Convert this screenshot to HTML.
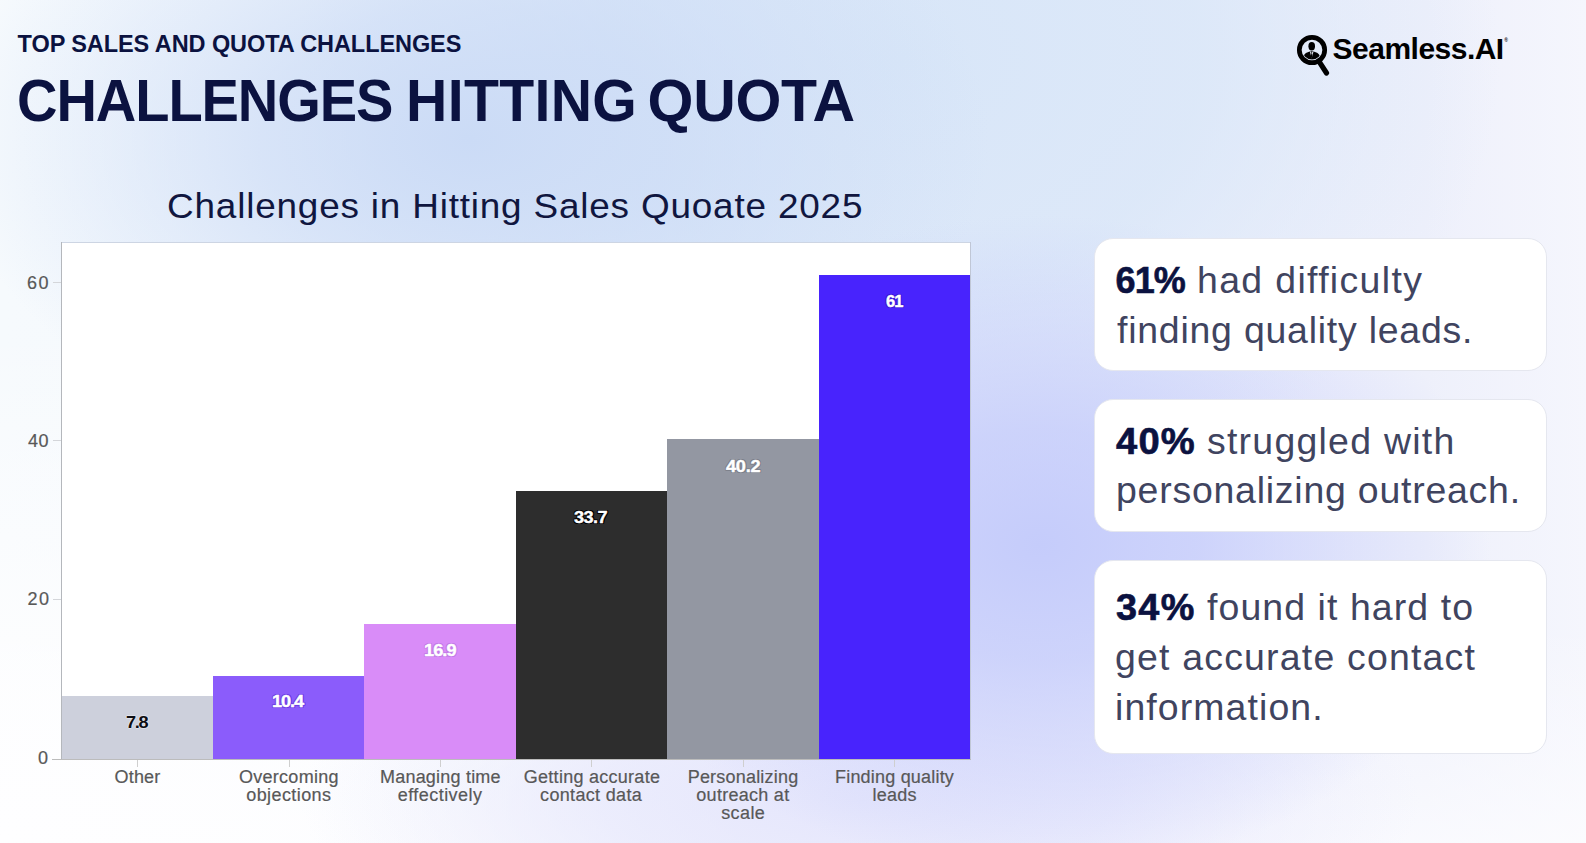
<!DOCTYPE html>
<html lang="en">
<head>
<meta charset="utf-8">
<title>Challenges Hitting Quota</title>
<style>
*{margin:0;padding:0;box-sizing:border-box}
html,body{width:1586px;height:843px;overflow:hidden}
body{font-family:"Liberation Sans",sans-serif;position:relative;background:#f1f3fd}
#bg{position:absolute;left:0;top:0;width:1586px;height:843px;
background:
 radial-gradient(ellipse 450px 330px at 1040px 545px, rgba(197,204,251,1) 0%, rgba(197,204,251,.8) 35%, rgba(197,204,251,0) 100%),
 radial-gradient(ellipse 560px 190px at 860px 800px, rgba(229,230,252,1) 0%, rgba(229,230,252,.7) 45%, rgba(229,230,252,0) 100%),
 radial-gradient(ellipse 520px 330px at 470px 140px, rgba(203,219,246,1) 0%, rgba(203,219,246,.7) 40%, rgba(203,219,246,0) 100%),
 radial-gradient(ellipse 600px 460px at 900px 60px, rgba(216,230,248,1) 0%, rgba(216,230,248,.8) 50%, rgba(216,230,248,0) 100%),
 radial-gradient(ellipse 800px 520px at 0px 843px, rgba(254,254,255,1) 0%, rgba(254,254,255,.85) 30%, rgba(254,254,255,0) 100%),
 linear-gradient(0deg, rgba(253,253,255,.75) 0, rgba(253,253,255,0) 220px),
 linear-gradient(90deg,#f6fafd 0%, #f4f8fd 30%, #f0f1fc 60%, #eef0fb 90%, #f5f6fd 100%);
}
.t{position:absolute;display:block;white-space:pre;line-height:1;transform-origin:0 0}
h1,p{font-size:inherit;font-weight:inherit}
#plot{position:absolute;left:62px;top:242px;width:909px;height:517px;background:#fff}
.bar{position:absolute}
.ln{position:absolute;background:#bdbfc4}
.card{position:absolute;left:1094.3px;width:453px;background:#fff;border:1.8px solid #e5e7ef;border-radius:19px}
</style>
</head>
<body>
<div id="bg"></div>
<span class="t" style="left:17.6px;top:32.6px;font-size:23.5px;font-weight:700;letter-spacing:-0.08px;color:#0b1240;">TOP SALES AND QUOTA CHALLENGES</span>
<h1><span class="t" style="left:17.4px;top:72.0px;font-size:59px;font-weight:700;letter-spacing:-1.13px;transform:scaleX(0.95);color:#0b1240;">CHALLENGES</span>
<span class="t" style="left:406.0px;top:72.0px;font-size:59px;font-weight:700;letter-spacing:0.34px;transform:scaleX(0.97);color:#0b1240;">HITTING</span>
<span class="t" style="left:647.5px;top:72.0px;font-size:59px;font-weight:700;letter-spacing:-0.26px;color:#0b1240;">QUOTA</span></h1>
<span class="t" style="left:166.9px;top:188.6px;font-size:35.5px;letter-spacing:0.77px;transform:scaleX(1.04);color:#10163f;">Challenges in Hitting Sales Quoate 2025</span>

<div id="plot"></div>
<div class="ln" style="left:61px;top:242px;width:1px;height:518px;background:#b4b7bc"></div>
<div class="ln" style="left:62px;top:242px;width:909px;height:1px;background:#cdd5e3"></div>
<div class="ln" style="left:970px;top:242px;width:1px;height:518px;background:#c0c7d6"></div>
<div class="bar" style="left:62px;top:696px;width:151px;height:63px;background:#cdd0dc"></div>
<div class="bar" style="left:213px;top:676px;width:151px;height:83px;background:#8b5cfb"></div>
<div class="bar" style="left:364px;top:624px;width:152px;height:135px;background:#d98cf8"></div>
<div class="bar" style="left:516px;top:491px;width:151px;height:268px;background:#2d2d2d"></div>
<div class="bar" style="left:667px;top:439px;width:152px;height:320px;background:#9397a2"></div>
<div class="bar" style="left:819px;top:274.500px;width:151px;height:484.500px;background:#4823fd"></div>
<div class="ln" style="left:52px;top:759px;width:919px;height:1px;background:#bcbcbc"></div>

<div class="ln" style="left:53px;top:282px;width:8px;height:1px;background:#d4d6da"></div>
<div class="ln" style="left:53px;top:440px;width:8px;height:1px;background:#d4d6da"></div>
<div class="ln" style="left:53px;top:599px;width:8px;height:1px;background:#d4d6da"></div>
<div class="ln" style="left:137px;top:760px;width:1px;height:7px;background:#cfcfcf"></div>
<div class="ln" style="left:289px;top:760px;width:1px;height:7px;background:#cfcfcf"></div>
<div class="ln" style="left:440px;top:760px;width:1px;height:7px;background:#cfcfcf"></div>
<div class="ln" style="left:591px;top:760px;width:1px;height:7px;background:#cfcfcf"></div>
<div class="ln" style="left:743px;top:760px;width:1px;height:7px;background:#cfcfcf"></div>
<div class="ln" style="left:894px;top:760px;width:1px;height:7px;background:#cfcfcf"></div>

<span class="t" style="left:27.0px;top:274.0px;font-size:18px;letter-spacing:1.6px;color:#585858;-webkit-text-stroke:0.2px #585858;">60</span>
<span class="t" style="left:28.0px;top:432.0px;font-size:18px;letter-spacing:0.6px;color:#585858;-webkit-text-stroke:0.2px #585858;">40</span>
<span class="t" style="left:27.5px;top:590.2px;font-size:18px;letter-spacing:1.6px;color:#585858;-webkit-text-stroke:0.2px #585858;">20</span>
<span class="t" style="left:37.9px;top:749.2px;font-size:18px;color:#585858;-webkit-text-stroke:0.2px #585858;">0</span>
<span class="t" style="left:114.6px;top:767.7px;font-size:18px;letter-spacing:0.16px;color:#585858;-webkit-text-stroke:0.2px #585858;">Other</span>
<span class="t" style="left:238.9px;top:767.7px;font-size:18px;letter-spacing:0.29px;color:#585858;-webkit-text-stroke:0.2px #585858;">Overcoming</span>
<span class="t" style="left:246.3px;top:786.0px;font-size:18px;letter-spacing:0.4px;color:#585858;-webkit-text-stroke:0.2px #585858;">objections</span>
<span class="t" style="left:380.0px;top:767.7px;font-size:18px;letter-spacing:0.21px;color:#585858;-webkit-text-stroke:0.2px #585858;">Managing time</span>
<span class="t" style="left:397.8px;top:786.0px;font-size:18px;letter-spacing:0.44px;color:#585858;-webkit-text-stroke:0.2px #585858;">effectively</span>
<span class="t" style="left:523.8px;top:767.7px;font-size:18px;letter-spacing:0.27px;color:#585858;-webkit-text-stroke:0.2px #585858;">Getting accurate</span>
<span class="t" style="left:540.1px;top:786.0px;font-size:18px;letter-spacing:0.33px;color:#585858;-webkit-text-stroke:0.2px #585858;">contact data</span>
<span class="t" style="left:687.7px;top:767.7px;font-size:18px;letter-spacing:0.2px;color:#585858;-webkit-text-stroke:0.2px #585858;">Personalizing</span>
<span class="t" style="left:696.3px;top:786.0px;font-size:18px;letter-spacing:0.28px;color:#585858;-webkit-text-stroke:0.2px #585858;">outreach at</span>
<span class="t" style="left:721.2px;top:804.4px;font-size:18px;letter-spacing:0.4px;color:#585858;-webkit-text-stroke:0.2px #585858;">scale</span>
<span class="t" style="left:835.0px;top:767.7px;font-size:18px;letter-spacing:0.2px;color:#585858;-webkit-text-stroke:0.2px #585858;">Finding quality</span>
<span class="t" style="left:872.4px;top:786.0px;font-size:18px;letter-spacing:0.25px;color:#585858;-webkit-text-stroke:0.2px #585858;">leads</span>
<span class="t" style="left:125.9px;top:713.6px;font-size:16.5px;font-weight:700;letter-spacing:-1.18px;transform:scaleX(1.1);color:#0d0d12;text-shadow:-1px 0 #dfe1ea,1px 0 #dfe1ea,0 -1px #dfe1ea,0 1px #dfe1ea;">7.8</span>
<span class="t" style="left:272.3px;top:692.8px;font-size:16.5px;font-weight:700;letter-spacing:-0.97px;transform:scaleX(1.1);color:#fff;text-shadow:-1px 0 #6f3fe6,1px 0 #6f3fe6,0 -1px #6f3fe6,0 1px #6f3fe6,-1px -1px #6f3fe6,1px 1px #6f3fe6,-1px 1px #6f3fe6,1px -1px #6f3fe6;-webkit-text-stroke:0.4px #fff;">10.4</span>
<span class="t" style="left:424.0px;top:641.8px;font-size:16.5px;font-weight:700;letter-spacing:-0.85px;transform:scaleX(1.1);color:#fff;text-shadow:-1px 0 #c37ae8,1px 0 #c37ae8,0 -1px #c37ae8,0 1px #c37ae8,-1px -1px #c37ae8,1px 1px #c37ae8,-1px 1px #c37ae8,1px -1px #c37ae8;-webkit-text-stroke:0.4px #fff;">16.9</span>
<span class="t" style="left:574.4px;top:509.1px;font-size:16.5px;font-weight:700;letter-spacing:-0.49px;transform:scaleX(1.1);color:#fff;text-shadow:-1px 0 #000,1px 0 #000,0 -1px #000,0 1px #000,-1px -1px #000,1px 1px #000,-1px 1px #000,1px -1px #000;-webkit-text-stroke:0.4px #fff;">33.7</span>
<span class="t" style="left:726.4px;top:458.1px;font-size:16.5px;font-weight:700;letter-spacing:-0.24px;transform:scaleX(1.1);color:#fff;text-shadow:-1px 0 #7d818c,1px 0 #7d818c,0 -1px #7d818c,0 1px #7d818c,-1px -1px #7d818c,1px 1px #7d818c,-1px 1px #7d818c,1px -1px #7d818c;-webkit-text-stroke:0.4px #fff;">40.2</span>
<span class="t" style="left:886.0px;top:293.0px;font-size:16.5px;font-weight:700;letter-spacing:-1.0px;transform:scaleX(1.0);color:#fff;text-shadow:-1px 0 #3a18d8,1px 0 #3a18d8,0 -1px #3a18d8,0 1px #3a18d8,-1px -1px #3a18d8,1px 1px #3a18d8,-1px 1px #3a18d8,1px -1px #3a18d8;-webkit-text-stroke:0.4px #fff;">61</span>

<div class="card" style="top:237.900px;height:133px"></div>
<div class="card" style="top:399.300px;height:133px"></div>
<div class="card" style="top:560px;height:194px"></div>
<p><span class="t" style="left:1115.6px;top:262.6px;font-size:36px;font-weight:700;letter-spacing:-0.9px;color:#0b1240;-webkit-text-stroke:0.6px #0b1240;">61%</span>
<span class="t" style="left:1196.9px;top:262.6px;font-size:36px;letter-spacing:1.29px;transform:scaleX(1.04);color:#40445f;">had difficulty</span>
<span class="t" style="left:1116.6px;top:312.8px;font-size:36px;letter-spacing:0.74px;transform:scaleX(1.04);color:#40445f;">finding quality leads.</span></p>
<p><span class="t" style="left:1115.6px;top:423.8px;font-size:36px;font-weight:700;letter-spacing:1.13px;transform:scaleX(1.06);color:#0b1240;-webkit-text-stroke:0.6px #0b1240;">40%</span>
<span class="t" style="left:1207.2px;top:423.8px;font-size:36px;letter-spacing:1.2px;transform:scaleX(1.04);color:#40445f;">struggled with</span>
<span class="t" style="left:1115.8px;top:473.0px;font-size:36px;letter-spacing:0.74px;transform:scaleX(1.04);color:#40445f;">personalizing outreach.</span></p>
<p><span class="t" style="left:1115.6px;top:589.9px;font-size:36px;font-weight:700;letter-spacing:1.24px;transform:scaleX(1.05);color:#0b1240;-webkit-text-stroke:0.6px #0b1240;">34%</span>
<span class="t" style="left:1206.8px;top:589.9px;font-size:36px;letter-spacing:1.04px;transform:scaleX(1.04);color:#40445f;">found it hard to</span>
<span class="t" style="left:1114.6px;top:640.0px;font-size:36px;letter-spacing:1.15px;transform:scaleX(1.04);color:#40445f;">get accurate contact</span>
<span class="t" style="left:1115.2px;top:690.3px;font-size:36px;letter-spacing:1.05px;transform:scaleX(1.04);color:#40445f;">information.</span></p>

<div style="position:absolute;left:1290px;top:30px;line-height:0"><svg width="46" height="52" viewBox="0 0 46 52"><defs><clipPath id="lc"><circle cx="22" cy="20" r="9.600"/></clipPath></defs><circle cx="22" cy="20" r="12.700" fill="none" stroke="#000" stroke-width="4.700"/><line x1="29" y1="31.300" x2="36.500" y2="43" stroke="#000" stroke-width="5.200" stroke-linecap="round"/><ellipse cx="21.700" cy="16.300" rx="3.300" ry="4.200" fill="#000"/><g clip-path="url(#lc)"><path d="M12.500 32C12.500 25 15.500 22.600 19.800 21.600L21.700 21.200L23.600 21.600C28 22.600 31 25 31 32Z" fill="#000"/><path d="M19.900 21.400L21.700 28.600L23.500 21.400L22.900 21.400L21.700 23L20.500 21.400Z" fill="#eef2fc"/><path d="M21.250 23.200h0.900l0.450 3.800-0.900 1.300-0.900-1.300z" fill="#000"/></g></svg></div>
<span class="t" style="left:1332.6px;top:34.2px;font-size:30px;font-weight:700;letter-spacing:-0.52px;color:#000;">Seamless.AI</span>
<span class="t" style="left:1504.300px;top:37.800px;font-size:5px;font-weight:700;color:#111">®</span>
</body>
</html>
